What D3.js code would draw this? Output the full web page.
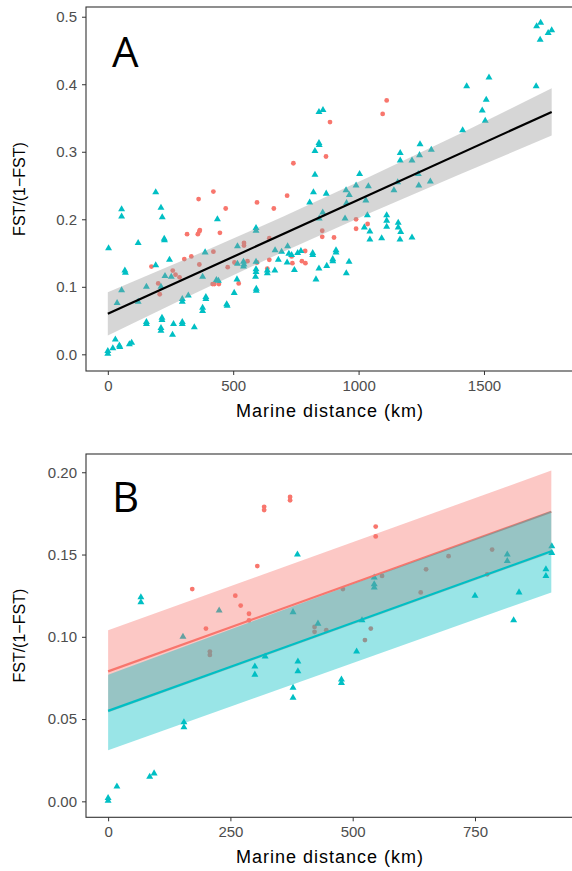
<!DOCTYPE html>
<html>
<head>
<meta charset="utf-8">
<script src="https://cdnjs.cloudflare.com/ajax/libs/d3/7.8.5/d3.min.js"></script>
<style>
  body { margin: 0; background: #fff; }
  svg { display: block; }
</style>
</head>
<body>
<svg id="chart" width="572" height="871"></svg>
<script>
// ---- panel A data (marine distance km, FST/(1-FST)) ----
var aRedX = [174,201,207,259,270,286,305,316,333,362,359,365,367,365,421,421,447,418,425,443,470,478,505,522,543,543,557,595,595,636,644,644,662,715,733,736,
             740,1112,1096,886,870,990,990,1036,855,855,902,787,774,788];
var aRedY = [0.130,0.105,0.089,0.124,0.118,0.114,0.141,0.178,0.145,0.230,0.178,0.182,0.184,0.133,0.241,0.152,0.180,0.104,0.104,0.104,0.216,0.129,0.136,0.105,0.165,0.161,0.138,0.225,0.136,0.127,0.140,0.172,0.216,0.235,0.145,0.135,
             0.283,0.376,0.356,0.344,0.293,0.200,0.186,0.193,0.183,0.174,0.173,0.153,0.138,0.135];

var aBlueX = [3,0,0,20,30,46,48,86,95,37,55,55,55,68,70,121,121,154,154,154,191,191,212,217,212,216,216,212,212,225,226,228,246,253,258,262,297,297,297,297,321,345,378,378,378,388,391,391,437,433,441,474,476,504,515,517,517,541,541,543,591,591,591,591,591,589,592,592,636,636,667,666,680,693,715,717,722,733,744,757,
              1710,1726,1756,1770,1724,1520,1431,1708,1509,1493,1505,1415,842,858,842,843,826,826,1245,1166,1243,1290,1166,1213,1238,1004,820,871,950,963,990,1039,1156,1141,1240,1286,
              805,952,1029,857,843,946,1035,1112,1112,1112,1158,1158,1168,1023,1045,1045,1092,1165,1213,770,817,817,842,873,830,897,897,910,910,962,951];
var aBlueY = [0.157,0.005,0.001,0.009,0.022,0.013,0.011,0.015,0.017,0.076,0.095,0.215,0.204,0.124,0.121,0.165,0.078,0.100,0.048,0.045,0.240,0.132,0.217,0.203,0.100,0.054,0.051,0.039,0.035,0.171,0.169,0.116,0.140,0.115,0.029,0.045,0.082,0.078,0.048,0.045,0.087,0.040,0.115,0.069,0.064,0.151,0.085,0.082,0.200,0.110,0.109,0.074,0.072,0.091,0.111,0.160,0.134,0.137,0.130,0.133,0.187,0.183,0.137,0.126,0.122,0.115,0.097,0.094,0.124,0.120,0.154,0.124,0.140,0.152,0.136,0.160,0.149,0.147,0.125,0.150,
              0.486,0.491,0.476,0.480,0.466,0.410,0.397,0.397,0.377,0.361,0.346,0.332,0.359,0.362,0.313,0.310,0.301,0.266,0.311,0.298,0.295,0.303,0.287,0.287,0.267,0.267,0.240,0.238,0.243,0.236,0.250,0.249,0.255,0.243,0.250,0.256,
              0.225,0.224,0.228,0.210,0.201,0.201,0.206,0.206,0.198,0.189,0.195,0.188,0.181,0.188,0.182,0.170,0.172,0.170,0.173,0.153,0.150,0.147,0.127,0.131,0.111,0.141,0.138,0.154,0.151,0.137,0.120];

// fitted line and confidence band, panel A
var aFitX = [0, 1770];
var aFitY = [0.060, 0.359];
var aBandX = [0, 350, 700, 1050, 1400, 1770];
var aBandLo = [0.028, 0.091, 0.152, 0.210, 0.266, 0.324];
var aBandHi = [0.092, 0.147, 0.204, 0.264, 0.326, 0.394];

// ---- panel B data ----
var bRedX = [372,372,319,319,305,172,260,271,288,288,200,547,547,
             208,208,785,696,650,639,560,480,775,422,422,446,537,525];
var bRedY = [0.185,0.183,0.179,0.177,0.143,0.129,0.125,0.119,0.114,0.110,0.105,0.167,0.161,
             0.091,0.089,0.153,0.149,0.141,0.127,0.137,0.129,0.138,0.106,0.103,0.104,0.105,0.098];

var bBlueX = [67,67,227,153,378,387,321,300,300,378,378,388,388,155,155,85,94,18,0,0,477,477,508,544,544,544,816,816,907,907,895,895,750,840,829,429,519];
var bBlueY = [0.124,0.121,0.116,0.100,0.115,0.150,0.088,0.082,0.077,0.069,0.063,0.085,0.079,0.048,0.045,0.015,0.017,0.009,0.002,0.0004,0.074,0.072,0.091,0.136,0.132,0.130,0.150,0.146,0.155,0.151,0.141,0.137,0.125,0.127,0.110,0.108,0.110];

var bFitX = [0, 906];
var bRedFit = [0.079, 0.176];
var bRedLo = [0.054, 0.151];
var bRedHi = [0.104, 0.201];
var bBlueFit = [0.055, 0.152];
var bBlueLo = [0.031, 0.127];
var bBlueHi = [0.077, 0.1765];

var aXTicks = [0, 500, 1000, 1500];
var aYTicks = [0, 0.1, 0.2, 0.3, 0.4, 0.5];
var bXTicks = [0, 250, 500, 750];
var bYTicks = [0, 0.05, 0.10, 0.15, 0.20];

var red = "#F8766D", blue = "#00BFC4";

var svg = d3.select("#chart");
var font = "'Liberation Sans', Arial, sans-serif";

function zip(xs, ys) { return xs.map(function(x, i) { return {x: x, y: ys[i]}; }); }

function panel(o) {
  var x = d3.scaleLinear().domain(o.xDomain).range([86, 574]);
  var y = d3.scaleLinear().domain(o.yDomain).range([o.bottom, o.top]);

  var g = svg.append("g");
  var clipId = "clip" + o.id;
  g.append("clipPath").attr("id", clipId)
    .append("rect").attr("x", 86).attr("y", o.top)
    .attr("width", 574 - 86).attr("height", o.bottom - o.top);

  var plot = g.append("g").attr("clip-path", "url(#" + clipId + ")");

  // points first, smooth on top (as ggplot draws them)
  o.circles.forEach(function(s) {
    plot.append("g").selectAll("circle")
      .data(zip(s.x, s.y))
      .enter().append("circle")
        .attr("cx", function(d) { return x(d.x); })
        .attr("cy", function(d) { return y(d.y); })
        .attr("r", 2.4)
        .attr("fill", s.color);
  });
  o.triangles.forEach(function(s) {
    plot.append("g").selectAll("path")
      .data(zip(s.x, s.y))
      .enter().append("path")
        .attr("transform", function(d) { return "translate(" + x(d.x) + "," + y(d.y) + ")"; })
        .attr("d", d3.symbol().type(d3.symbolTriangle).size(21))
        .attr("fill", s.color);
  });

  o.smooths.forEach(function(s) {
    var band = s.bandX.map(function(v, i) { return {x: v, lo: s.lo[i], hi: s.hi[i]}; });
    plot.append("path")
      .datum(band)
      .attr("d", d3.area()
        .x(function(d) { return x(d.x); })
        .y0(function(d) { return y(d.lo); })
        .y1(function(d) { return y(d.hi); }))
      .attr("fill", s.fill)
      .attr("fill-opacity", 0.4);
    plot.append("path")
      .datum(zip(s.fitX, s.fitY))
      .attr("d", d3.line().x(function(d) { return x(d.x); }).y(function(d) { return y(d.y); }))
      .attr("fill", "none")
      .attr("stroke", s.line)
      .attr("stroke-width", 2.2);
  });

  // axes
  var xa = g.append("g")
      .attr("transform", "translate(0," + o.bottom + ")")
      .call(d3.axisBottom(x).tickValues(o.xTicks).tickFormat(d3.format("d")).tickSize(4).tickPadding(5).tickSizeOuter(0));
  var ya = g.append("g")
      .attr("transform", "translate(86,0)")
      .call(d3.axisLeft(y).tickValues(o.yTicks).tickFormat(d3.format(o.yFormat)).tickSize(4).tickPadding(5).tickSizeOuter(0));
  [xa, ya].forEach(function(a) {
    a.select(".domain").remove();
    a.selectAll("line").attr("stroke", "#333");
    a.selectAll("text").attr("fill", "#4d4d4d").style("font-family", font).style("font-size", "15px");
  });

  g.append("rect")
    .attr("x", 86).attr("y", o.top)
    .attr("width", 574 - 86).attr("height", o.bottom - o.top)
    .attr("fill", "none").attr("stroke", "#333").attr("stroke-width", 1.1);

  g.append("text")
    .attr("x", 330).attr("y", o.bottom + 46)
    .attr("text-anchor", "middle")
    .style("font-family", font).style("font-size", "18px").style("letter-spacing", "1px")
    .attr("fill", "#000")
    .text("Marine distance (km)");

  g.append("text")
    .attr("transform", "translate(25," + (o.top + o.bottom) / 2 + ") rotate(-90)")
    .attr("text-anchor", "middle")
    .style("font-family", font).style("font-size", "16px")
    .attr("fill", "#000")
    .text("FST/(1\u2212FST)");

  g.append("text")
    .attr("x", 112).attr("y", o.top + o.letterDy)
    .style("font-family", "'Open Sans', sans-serif").style("font-size", "42px")
    .attr("fill", "#000")
    .text(o.id);
}

panel({
  id: "A", top: 7, bottom: 371,
  xDomain: [-87, 1859], yDomain: [-0.0247, 0.5144],
  xTicks: aXTicks, yTicks: aYTicks, yFormat: ".1f", letterDy: 59.5,
  circles: [{x: aRedX, y: aRedY, color: red}],
  triangles: [{x: aBlueX, y: aBlueY, color: blue}],
  smooths: [{bandX: aBandX, lo: aBandLo, hi: aBandHi, fitX: aFitX, fitY: aFitY, fill: "#999999", line: "#000"}]
});

panel({
  id: "B", top: 454, bottom: 817.3,
  xDomain: [-45.2, 952.4], yDomain: [-0.0097, 0.2111],
  xTicks: bXTicks, yTicks: bYTicks, yFormat: ".2f", letterDy: 57.7,
  circles: [{x: bRedX, y: bRedY, color: red}],
  triangles: [{x: bBlueX, y: bBlueY, color: blue}],
  smooths: [
    {bandX: bFitX, lo: bRedLo, hi: bRedHi, fitX: bFitX, fitY: bRedFit, fill: red, line: red},
    {bandX: bFitX, lo: bBlueLo, hi: bBlueHi, fitX: bFitX, fitY: bBlueFit, fill: blue, line: blue}
  ]
});
</script>
</body>
</html>
